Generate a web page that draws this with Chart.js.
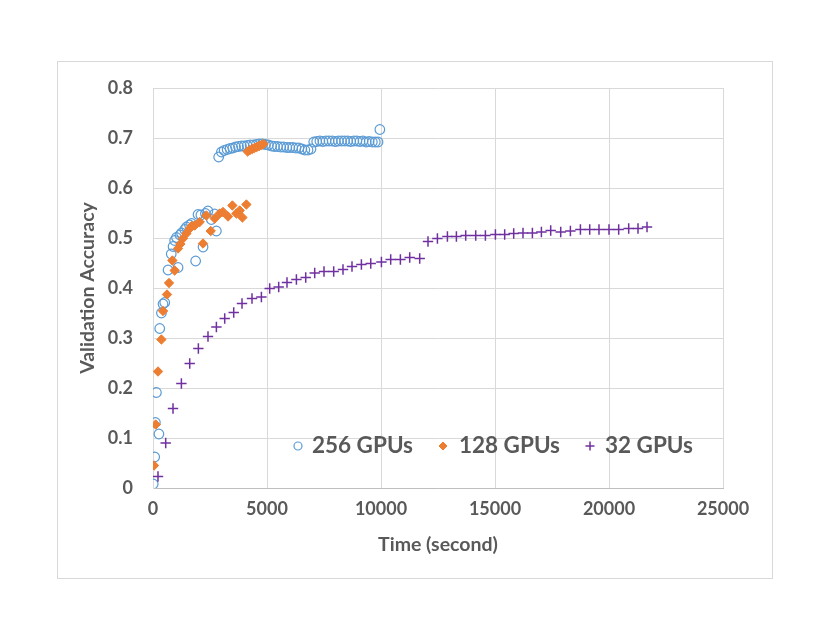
<!DOCTYPE html>
<html>
<head>
<meta charset="utf-8">
<script src="https://cdn.jsdelivr.net/npm/chart.js@4.4.1/dist/chart.umd.min.js"></script>
<style>
html, body { margin: 0; padding: 0; background: #fff; }
#wrap { width: 830px; height: 642px; }
</style>
</head>
<body>
<div id="wrap"><canvas id="chart" width="830" height="642"></canvas></div>
<script>
// --- dados ---
const time256 = [10, 75, 105, 150, 260, 295, 370, 440, 515, 660, 800, 880, 950, 1030, 1100, 1180, 1250, 1390, 1470, 1600,
    1690, 1870, 1975, 2100, 2195, 2300, 2410, 2560, 2700, 2780,
    2880, 3000, 3120, 3250, 3380, 3500, 3620, 3750, 3880, 4000, 4130, 4260, 4400, 4530, 4660, 4800, 4930, 5060, 5200, 5330,
    5460, 5600, 5730, 5870, 6000, 6130, 6270, 6400, 6530, 6660, 6800, 6930, 7050, 7180, 7320, 7450, 7590, 7720, 7860, 8000,
    8130, 8270, 8400, 8540, 8670, 8810, 8940, 9080, 9210, 9350, 9480, 9620, 9750, 9870, 9950];
const acc256 = [0.008, 0.062, 0.131, 0.191, 0.108, 0.319, 0.350, 0.368, 0.371, 0.436, 0.468, 0.483, 0.495, 0.501, 0.441, 0.506, 0.510, 0.517, 0.522, 0.526,
    0.529, 0.454, 0.547, 0.546, 0.482, 0.549, 0.554, 0.537, 0.548, 0.514,
    0.662, 0.672, 0.675, 0.677, 0.679, 0.680, 0.682, 0.683, 0.684, 0.684, 0.685, 0.686, 0.686, 0.687, 0.688, 0.688, 0.687, 0.686, 0.684, 0.683,
    0.683, 0.682, 0.682, 0.681, 0.681, 0.681, 0.680, 0.680, 0.678, 0.676, 0.676, 0.678, 0.692, 0.693, 0.694, 0.693, 0.694, 0.694, 0.694, 0.693,
    0.694, 0.694, 0.694, 0.694, 0.693, 0.694, 0.694, 0.693, 0.694, 0.692, 0.693, 0.692, 0.692, 0.692, 0.717];

const time128 = [44, 118, 219, 368, 440, 614, 702, 850, 950, 1097, 1200, 1316, 1465, 1610, 1700, 1829, 2048, 2193, 2342, 2531,
    2706, 2925, 3070, 3290, 3482, 3658, 3803, 3921, 4096, 4150, 4250, 4350, 4450, 4550, 4650, 4750, 4850];
const acc128 = [0.045, 0.127, 0.233, 0.297, 0.354, 0.387, 0.410, 0.455, 0.435, 0.479, 0.488, 0.499, 0.509, 0.519, 0.524, 0.525, 0.532, 0.489, 0.545, 0.514,
    0.539, 0.549, 0.552, 0.543, 0.565, 0.549, 0.555, 0.541, 0.567, 0.673, 0.676, 0.678, 0.680, 0.682, 0.684, 0.686, 0.688];

const time32 = [219, 557, 877, 1245, 1610, 1990, 2412, 2780, 3145, 3540, 3904, 4342, 4754, 5118, 5513, 5877, 6290, 6698, 7092, 7500,
    7925, 8333, 8728, 9140, 9550, 10018, 10425, 10850, 11259, 11697, 12061, 12474, 12913, 13307, 13715, 14154, 14579, 15018, 15425, 15820,
    16228, 16640, 17035, 17443, 17882, 18307, 18746, 19154, 19561, 20000, 20425, 20864, 21272, 21667];
const acc32 = [0.023, 0.090, 0.159, 0.209, 0.249, 0.279, 0.303, 0.322, 0.339, 0.351, 0.369, 0.379, 0.382, 0.399, 0.402, 0.411, 0.417, 0.421, 0.430, 0.433,
    0.433, 0.437, 0.443, 0.447, 0.449, 0.452, 0.457, 0.457, 0.461, 0.459, 0.493, 0.499, 0.503, 0.503, 0.505, 0.505, 0.505, 0.507, 0.507, 0.509,
    0.510, 0.510, 0.512, 0.515, 0.512, 0.514, 0.517, 0.517, 0.517, 0.517, 0.517, 0.519, 0.519, 0.522];

const seriesNames = ['256 GPUs', '128 GPUs', '32 GPUs'];
const xTickLabels = ['0', '5000', '10000', '15000', '20000', '25000'];
const yTickLabels = ['0', '0.1', '0.2', '0.3', '0.4', '0.5', '0.6', '0.7', '0.8'];

const BLUE = '#5b9bd5';
const ORANGE = '#ed7d31';
const PURPLE = '#7030a0';
const TEXT = '#595959';

// montar pontos {x, y}
function toPoints(xs, ys) {
    return xs.map((x, i) => ({ x: x, y: ys[i] }));
}

// fundo branco e moldura cinza
const framePlugin = {
    id: 'frame',
    beforeDraw(chart) {
        const ctx = chart.ctx;
        ctx.save();
        ctx.fillStyle = '#fff';
        ctx.fillRect(0, 0, chart.width, chart.height);
        ctx.strokeStyle = '#d9d9d9';
        ctx.lineWidth = 1;
        ctx.strokeRect(57.5, 61.5, 715, 517);
        ctx.restore();
    }
};

// legenda dentro da area do grafico
const legendPlugin = {
    id: 'insideLegend',
    afterDraw(chart) {
        const ctx = chart.ctx;
        const y = 446;
        const items = [
            { mx: 298, tx: 312, ds: 0, r: 4 },
            { mx: 443, tx: 459, ds: 1, r: 4 },
            { mx: 590, tx: 605, ds: 2, r: 4.5 }
        ];
        ctx.save();
        items.forEach(it => {
            const d = chart.data.datasets[it.ds];
            ctx.strokeStyle = d.borderColor;
            ctx.fillStyle = d.backgroundColor;
            ctx.lineWidth = d.borderWidth;
            Chart.helpers.drawPoint(ctx, { pointStyle: d.pointStyle, radius: it.r, borderWidth: d.borderWidth, rotation: 0 }, it.mx, y);
            ctx.fillStyle = TEXT;
            ctx.font = 'bold 22.5px Lato';
            ctx.textBaseline = 'middle';
            ctx.textAlign = 'left';
            ctx.fillText(seriesNames[it.ds], it.tx, y);
        });
        ctx.restore();
    }
};

Chart.defaults.font.family = 'Lato';
Chart.defaults.color = TEXT;

const ctx = document.getElementById('chart').getContext('2d');
new Chart(ctx, {
    type: 'scatter',
    data: {
        datasets: [
            {
                label: seriesNames[0],
                data: toPoints(time256, acc256),
                pointStyle: 'circle',
                pointRadius: 4.8,
                borderColor: BLUE,
                backgroundColor: 'rgba(0,0,0,0)',
                borderWidth: 1.2,
                order: 3
            },
            {
                label: seriesNames[1],
                data: toPoints(time128, acc128),
                pointStyle: 'rectRot',
                pointRadius: 4.7,
                borderColor: ORANGE,
                backgroundColor: ORANGE,
                borderWidth: 1,
                order: 2
            },
            {
                label: seriesNames[2],
                data: toPoints(time32, acc32),
                pointStyle: 'cross',
                pointRadius: 5.2,
                borderColor: PURPLE,
                backgroundColor: PURPLE,
                borderWidth: 1.5,
                order: 1
            }
        ]
    },
    options: {
        responsive: false,
        animation: false,
        layout: { padding: { left: 76, top: 88, right: 107, bottom: 86 } },
        plugins: {
            legend: { display: false },
            tooltip: { enabled: false }
        },
        scales: {
            x: {
                type: 'linear',
                min: 0,
                max: 25000,
                afterFit(scale) { scale.height = 68; },
                afterBuildTicks(scale) {
                    scale.ticks = xTickLabels.map(t => ({ value: Number(t) }));
                },
                ticks: {
                    padding: 10,
                    font: { size: 18, weight: 'bold' },
                    color: TEXT,
                    callback: (v, i) => xTickLabels[i]
                },
                grid: { color: '#d9d9d9', drawTicks: false },
                border: { color: '#bfbfbf' },
                title: {
                    display: true,
                    text: 'Time (second)',
                    font: { size: 19.5, weight: 'bold' },
                    color: TEXT,
                    padding: 0
                }
            },
            y: {
                type: 'linear',
                min: 0,
                max: 0.8,
                afterFit(scale) { scale.width = 77; },
                afterBuildTicks(scale) {
                    scale.ticks = yTickLabels.map(t => ({ value: Number(t) }));
                },
                ticks: {
                    padding: 20,
                    font: { size: 18, weight: 'bold' },
                    color: TEXT,
                    callback: (v, i) => yTickLabels[i]
                },
                grid: { color: '#d9d9d9', drawTicks: false },
                border: { color: '#d9d9d9' },
                title: {
                    display: true,
                    text: 'Validation Accuracy',
                    font: { size: 19.5, weight: 'bold' },
                    color: TEXT,
                    padding: 0
                }
            }
        }
    },
    plugins: [framePlugin, legendPlugin]
});
</script>
</body>
</html>
